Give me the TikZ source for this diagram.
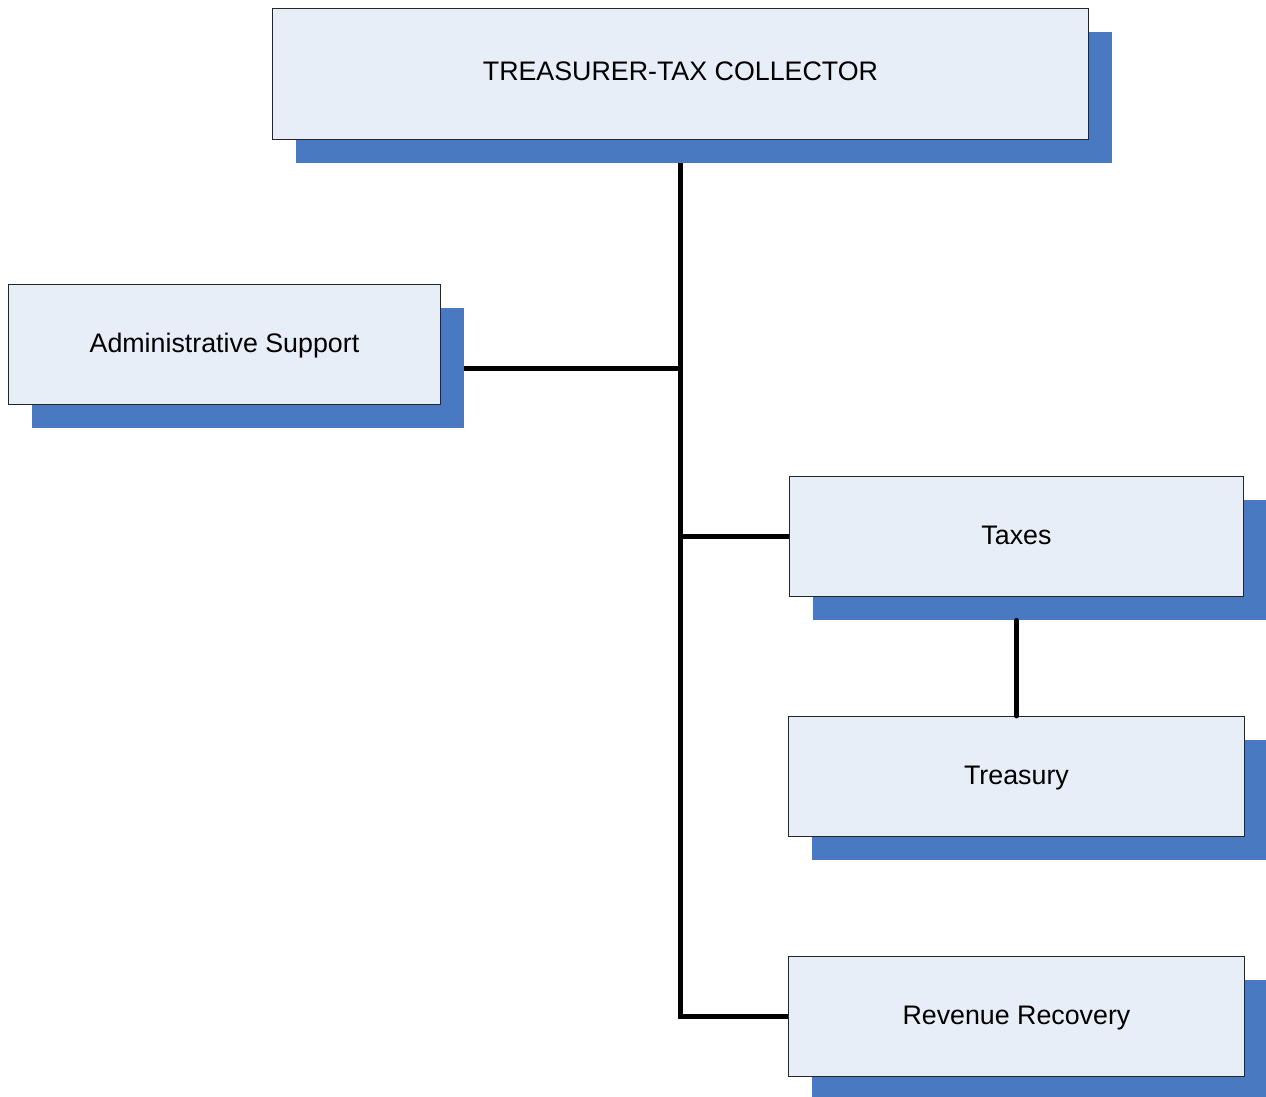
\documentclass[tikz,border=0pt]{standalone}
\usepackage{fontspec}
\setmainfont{Liberation Sans}
\definecolor{boxfill}{HTML}{E8EEF8}
\definecolor{shadowblue}{HTML}{4879C1}
\begin{document}
\begin{tikzpicture}[x=1pt,y=-1pt,
  orgbox/.style={draw=black!85,line width=0.9pt,fill=boxfill,inner sep=0pt,anchor=north west,
    font=\fontsize{26.8}{30}\selectfont,text height=19.2pt,text depth=4pt},
  shadowbox/.style={fill=shadowblue,draw=none,inner sep=0pt,anchor=north west},
  conn/.style={line width=4.8pt,black}]
\useasboundingbox (0,0) rectangle (1266,1097);
% shadows
\node[shadowbox,minimum width=816pt,minimum height=131pt] (topS) at (296,32) {};
\node[shadowbox,minimum width=432pt,minimum height=120pt] (admS) at (32,308) {};
\node[shadowbox,minimum width=454pt,minimum height=120pt] (taxS) at (813,500) {};
\node[shadowbox,minimum width=455pt,minimum height=120pt] (treS) at (812,740) {};
\node[shadowbox,minimum width=455pt,minimum height=118pt] (revS) at (812,980) {};
% boxes
\node[orgbox,minimum width=816pt,minimum height=131pt,text depth=6pt] (top) at (272,8) {TREASURER-TAX COLLECTOR};
\node[orgbox,minimum width=432pt,minimum height=120pt] (adm) at (8,284) {Administrative Support};
\node[orgbox,minimum width=454pt,minimum height=120pt] (tax) at (789,476) {Taxes};
\node[orgbox,minimum width=456pt,minimum height=120pt] (tre) at (788,716) {Treasury};
\node[orgbox,minimum width=456pt,minimum height=120pt] (rev) at (788,956) {Revenue Recovery};
% connectors
\coordinate (trunkTop) at (top.south |- topS.south);
\draw[conn,line join=miter] (trunkTop) -- (top.south |- rev.west) -- (rev.west);
\draw[conn] (admS.east) -- (top.south |- admS.east);
\draw[conn] (top.south |- tax.west) -- (tax.west);
\draw[conn,line cap=round] (tax.south |- taxS.south) -- (tre.north);
\end{tikzpicture}
\end{document}
